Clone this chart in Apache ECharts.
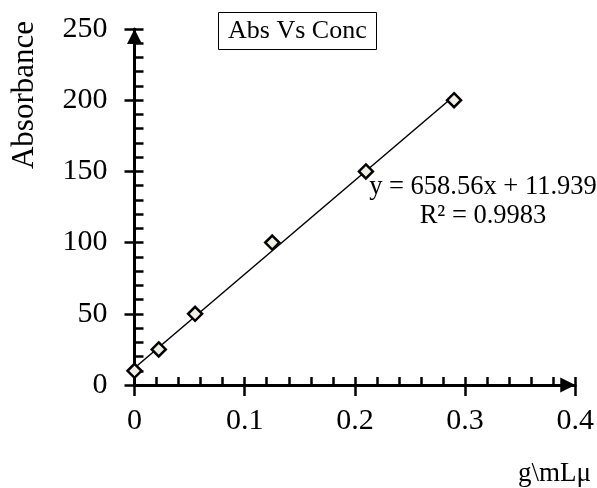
<!DOCTYPE html>
<html>
<head>
<meta charset="utf-8">
<script src="https://cdn.jsdelivr.net/npm/echarts@6/dist/echarts.min.js"></script>
<style>html,body{margin:0;padding:0;background:#fff;}#c{width:597px;height:488px;}</style>
</head>
<body>
<div id="c"></div>
<script>
var conc = [0, 0.022, 0.055, 0.125, 0.21, 0.29];
var absorbance = [10, 25, 50, 100, 150, 200];
var xTicks = [0, 0.1, 0.2, 0.3, 0.4];
var yTicks = [0, 50, 100, 150, 200, 250];
var trendSlope = 658.56;
var trendIntercept = 11.939;
var rSquared = 0.9983;
var titleText = 'Abs Vs Conc';
var yName = 'Absorbance';
var xName = 'g\\mLμ';

var FONT = 'Liberation Serif';
var points = conc.map(function (x, i) { return [x, absorbance[i]]; });
var xLo = Math.min.apply(null, conc), xHi = Math.max.apply(null, conc);
var trend = [[xLo, trendSlope * xLo + trendIntercept], [xHi, trendSlope * xHi + trendIntercept]];

var chart = echarts.init(document.getElementById('c'), null, {renderer: 'canvas'});
var axisCommonX = {type: 'value', min: xTicks[0], max: xTicks[xTicks.length - 1], interval: 0.1, splitLine: {show: false}, position: 'bottom'};
var axisCommonY = {type: 'value', min: yTicks[0], max: yTicks[yTicks.length - 1], interval: 50, splitLine: {show: false}, position: 'left'};
var TICKW = 2.5;
chart.setOption({
  animation: false,
  backgroundColor: '#fff',
  title: {
    text: titleText, left: 218, top: 12,
    borderColor: '#000', borderWidth: 1, padding: [6, 10],
    textStyle: {fontFamily: FONT, fontSize: 26, fontWeight: 'normal', color: '#000', lineHeight: 26}
  },
  grid: {left: 134.5, right: 21, top: 29, bottom: 103, containLabel: false},
  xAxis: [
    Object.assign({}, axisCommonX, {
      axisLine: {show: true, onZero: false, symbol: ['none', 'triangle'], symbolSize: [15, 15], symbolOffset: [0, -7.5], lineStyle: {color: '#000', width: 3}},
      axisTick: {show: true, inside: true, length: 8, lineStyle: {color: '#000', width: TICKW}},
      minorTick: {show: true, splitNumber: 5, length: 8, lineStyle: {color: '#000', width: TICKW}},
      axisLabel: {show: true, margin: 21, color: '#000', fontFamily: FONT, fontSize: 30, formatter: function (v) { return String(+v.toFixed(2)); }}
    }),
    Object.assign({}, axisCommonX, {
      axisLine: {show: false, onZero: false},
      axisTick: {show: true, inside: false, length: 11, lineStyle: {color: '#000', width: TICKW}},
      axisLabel: {show: false}
    })
  ],
  yAxis: [
    Object.assign({}, axisCommonY, {
      axisLine: {show: true, onZero: false, symbol: ['none', 'triangle'], symbolSize: [15, 15], symbolOffset: [0, -7.5], lineStyle: {color: '#000', width: 3}},
      axisTick: {show: true, inside: true, length: 9, lineStyle: {color: '#000', width: TICKW}},
      minorTick: {show: true, splitNumber: 5, length: 9, lineStyle: {color: '#000', width: TICKW}},
      axisLabel: {show: true, margin: 27, color: '#000', fontFamily: FONT, fontSize: 30}
    }),
    Object.assign({}, axisCommonY, {
      axisLine: {show: false, onZero: false},
      axisTick: {show: true, inside: false, length: 10, lineStyle: {color: '#000', width: TICKW}},
      axisLabel: {show: false}
    })
  ],
  graphic: [
    {type: 'text', x: 24.5, y: 95, rotation: Math.PI / 2,
     style: {text: yName, fontFamily: FONT, fontSize: 31, fill: '#000', align: 'center', verticalAlign: 'middle'}},
    {type: 'text', x: 518, y: 474,
     style: {text: xName, fontFamily: FONT, fontSize: 27, fill: '#000', align: 'left', verticalAlign: 'middle'}},
    {type: 'text', x: 483, y: 187,
     style: {text: 'y = ' + trendSlope + 'x + ' + trendIntercept, fontFamily: FONT, fontSize: 26.5, fill: '#000', align: 'center', verticalAlign: 'middle'}},
    {type: 'text', x: 483, y: 216,
     style: {text: 'R² = ' + rSquared, fontFamily: FONT, fontSize: 26.5, fill: '#000', align: 'center', verticalAlign: 'middle'}}
  ],
  series: [
    {type: 'line', data: trend, xAxisIndex: 0, yAxisIndex: 0, symbol: 'none', silent: true,
     lineStyle: {color: '#000', width: 1.5}, z: 2},
    {type: 'scatter', data: points, xAxisIndex: 0, yAxisIndex: 0, symbol: 'diamond', symbolSize: [14, 14],
     itemStyle: {color: '#efefe3', borderColor: '#000', borderWidth: 2.5, opacity: 1}, z: 3}
  ]
});
</script>
</body>
</html>
